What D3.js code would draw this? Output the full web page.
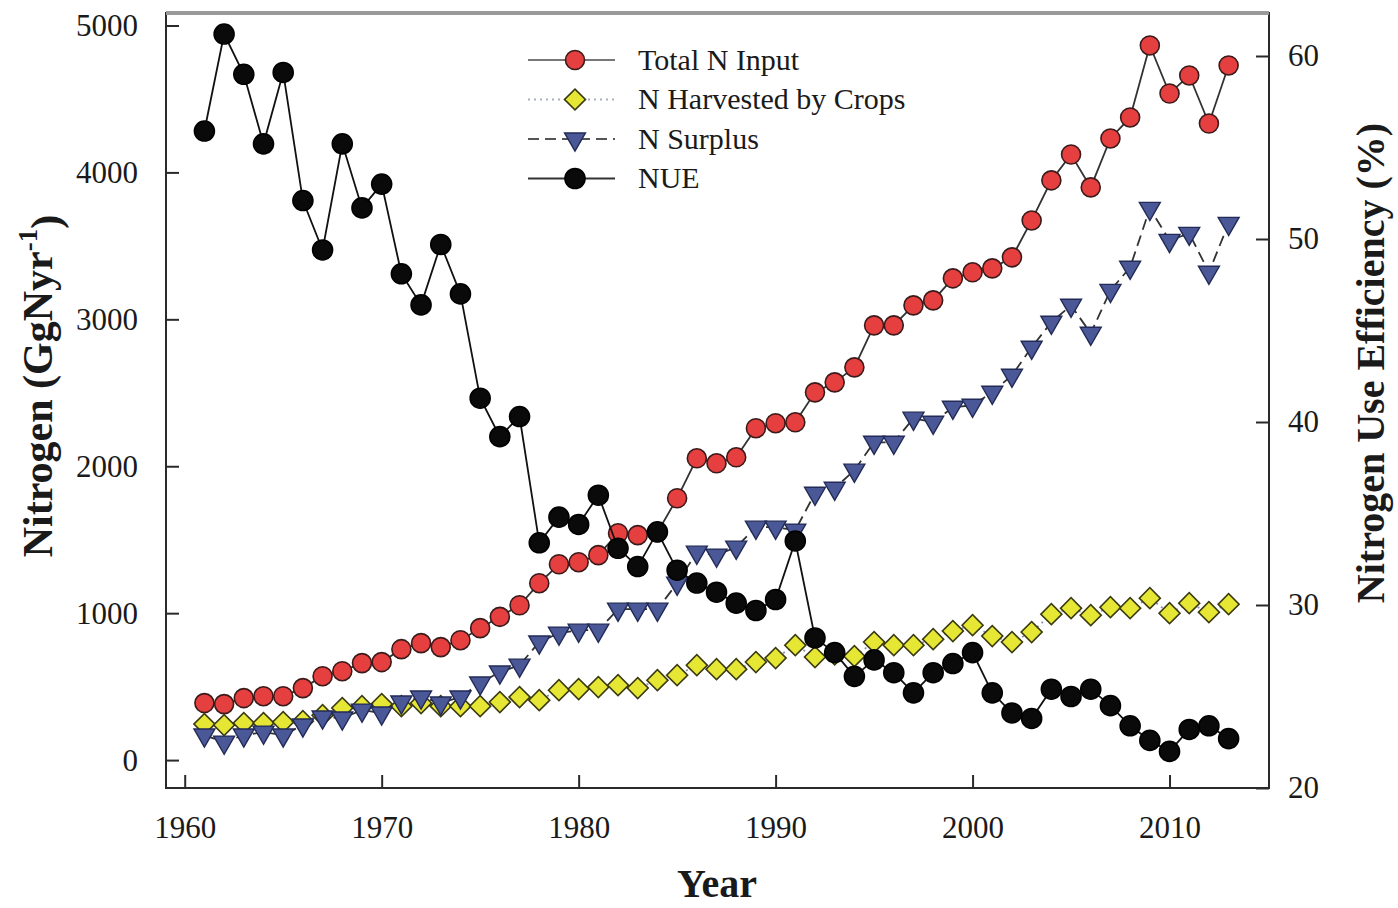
<!DOCTYPE html>
<html>
<head>
<meta charset="utf-8">
<script src="https://cdn.jsdelivr.net/npm/d3@7"></script>
<style>
  body { margin: 0; background: #fff; }
  svg { display: block; font-family: "Liberation Serif", "Times New Roman", serif; }
</style>
</head>
<body>
<svg id="chart" width="1398" height="908"></svg>
<script>
const years = d3.range(1961, 2014);

// Total N input (Gg N/yr)
const totalInput = [388, 381, 422, 435, 435, 490, 571, 605, 660, 667,
    755, 796, 769, 816, 898, 975, 1054, 1204, 1333, 1347,
    1395, 1544, 1531, 1550, 1782, 2054, 2020, 2061, 2259, 2293,
    2299, 2503, 2571, 2673, 2959, 2959, 3095, 3129, 3279, 3320,
    3347, 3422, 3673, 3946, 4122, 3898, 4231, 4374, 4864, 4537,
    4660, 4333, 4728];

// N harvested by crops (Gg N/yr)
const harvested = [245, 238, 252, 252, 259, 265, 306, 354, 367, 381,
    367, 388, 367, 367, 367, 395, 429, 408, 476, 483,
    497, 510, 490, 544, 578, 646, 619, 619, 667, 694,
    782, 701, 720, 707, 803, 782, 782, 823, 878, 918,
    844, 803, 871, 993, 1034, 986, 1041, 1034, 1102, 1000,
    1068, 1007, 1061];

// N surplus (Gg N/yr)
const surplus = [170, 122, 170, 190, 170, 238, 293, 286, 340, 320,
    395, 429, 388, 429, 524, 599, 646, 803, 864, 884,
    884, 1027, 1027, 1027, 1204, 1415, 1395, 1449, 1585, 1585,
    1565, 1816, 1850, 1973, 2163, 2163, 2327, 2299, 2401, 2415,
    2503, 2619, 2810, 2980, 3095, 2905, 3197, 3354, 3755, 3537,
    3585, 3320, 3653];

// Nitrogen use efficiency (%)
const nue = [55.9, 61.2, 59.0, 55.2, 59.1, 52.1, 49.4, 55.2, 51.7, 53.0,
    48.1, 46.4, 49.7, 47.0, 41.3, 39.2, 40.3, 33.4, 34.8, 34.4,
    36.0, 33.1, 32.1, 34.0, 31.9, 31.2, 30.7, 30.1, 29.7, 30.3,
    33.5, 28.2, 27.4, 26.1, 27.0, 26.3, 25.2, 26.3, 26.8, 27.4,
    25.2, 24.1, 23.8, 25.4, 25.0, 25.4, 24.5, 23.4, 22.6, 22.0,
    23.2, 23.4, 22.7];

const xTicks = [1960, 1970, 1980, 1990, 2000, 2010];
const leftTicks = [0, 1000, 2000, 3000, 4000, 5000];
const rightTicks = [20, 30, 40, 50, 60];

const legendLabels = ["Total N Input", "N Harvested by Crops", "N Surplus", "NUE"];

const svg = d3.select("#chart");

const area = { left: 166, right: 1269, top: 13, bottom: 788 };

const x = d3.scaleLinear().domain([1959.05, 2015.05]).range([area.left, area.right]);
const yL = d3.scaleLinear().domain([-190, 5085]).range([area.bottom, area.top]);
const yR = d3.scaleLinear().domain([20, 62.35]).range([area.bottom, area.top]);

const series = [
    { name: legendLabels[0], values: totalInput, scale: yL, shape: "circle", r: 9.5,
      fill: "#e5403f", stroke: "#3a1a1a", line: "#333", lineLegend: "#777", dash: null },
    { name: legendLabels[1], values: harvested, scale: yL, shape: "diamond", size: 220,
      fill: "#e6e634", stroke: "#3a3a10", line: "#8a90a8", lineLegend: "#aab0c4", dash: "2,4" },
    { name: legendLabels[2], values: surplus, scale: yL, shape: "triangle", size: 190,
      fill: "#4a5898", stroke: "#222a55", line: "#333", lineLegend: "#555", dash: "11,6" },
    { name: legendLabels[3], values: nue, scale: yR, shape: "circle", r: 10,
      fill: "#0a0a0a", stroke: "#000", line: "#111", lineLegend: "#333", dash: null }
];

const drawMarker = (g, s, cx, cy) => {
    if (s.shape === "circle") {
        g.append("circle").attr("cx", cx).attr("cy", cy).attr("r", s.r)
            .attr("fill", s.fill).attr("stroke", s.stroke).attr("stroke-width", 1.6);
    } else if (s.shape === "diamond") {
        g.append("path").attr("d", d3.symbol(d3.symbolSquare, s.size)())
            .attr("transform", `translate(${cx},${cy}) rotate(45)`)
            .attr("fill", s.fill).attr("stroke", s.stroke).attr("stroke-width", 1.6);
    } else {
        g.append("path").attr("d", d3.symbol(d3.symbolTriangle, s.size)())
            .attr("transform", `translate(${cx},${cy}) rotate(180)`)
            .attr("fill", s.fill).attr("stroke", s.stroke).attr("stroke-width", 1.4);
    }
};

// series
series.forEach(s => {
    const g = svg.append("g");
    const line = d3.line().x((d, i) => x(years[i])).y(d => s.scale(d));
    g.append("path")
        .datum(s.values)
        .attr("d", line)
        .attr("fill", "none")
        .attr("stroke", s.line)
        .attr("stroke-width", 1.8)
        .attr("stroke-dasharray", s.dash);
    s.values.forEach((v, i) => drawMarker(g, s, x(years[i]), s.scale(v)));
});

// frame
svg.append("rect")
    .attr("x", area.left).attr("y", area.top)
    .attr("width", area.right - area.left).attr("height", area.bottom - area.top)
    .attr("fill", "none").attr("stroke", "#2a2a2a").attr("stroke-width", 2);
svg.append("line")
    .attr("x1", area.left).attr("x2", area.right)
    .attr("y1", area.top).attr("y2", area.top)
    .attr("stroke", "#9a9a9a").attr("stroke-width", 4);

// axes
const styleAxis = g => {
    g.select(".domain").remove();
    g.selectAll(".tick line").attr("stroke", "#2a2a2a").attr("stroke-width", 2);
    g.selectAll(".tick text").attr("fill", "#1a1a1a").style("font-size", "31px")
        .style("font-family", '"Liberation Serif", serif');
};

svg.append("g")
    .attr("transform", `translate(${area.left},0)`)
    .call(d3.axisLeft(yL).tickValues(leftTicks).tickFormat(d3.format("d")).tickSize(-13).tickPadding(28))
    .call(styleAxis);

svg.append("g")
    .attr("transform", `translate(${area.right},0)`)
    .call(d3.axisRight(yR).tickValues(rightTicks).tickFormat(d3.format("d")).tickSize(-13).tickPadding(19))
    .call(styleAxis);

svg.append("g")
    .attr("transform", `translate(0,${area.bottom})`)
    .call(d3.axisBottom(x).tickValues(xTicks).tickFormat(d3.format("d")).tickSize(-13).tickPadding(28))
    .call(styleAxis);

// axis titles
svg.append("text")
    .attr("transform", "translate(52,386) rotate(-90)")
    .attr("text-anchor", "middle")
    .style("font-size", "42px").style("font-weight", "bold").attr("fill", "#1a1a1a")
    .call(t => {
        t.append("tspan").text("Nitrogen (GgNyr");
        t.append("tspan").attr("dy", "-0.55em").style("font-size", "27px").text("-1");
        t.append("tspan").attr("dy", "0.55em").text(")");
    });

svg.append("text")
    .attr("transform", "translate(1384,363) rotate(-90)")
    .attr("text-anchor", "middle")
    .style("font-size", "40px").style("font-weight", "bold").attr("fill", "#1a1a1a")
    .text("Nitrogen Use Efficiency (%)");

svg.append("text")
    .attr("x", 717).attr("y", 897)
    .attr("text-anchor", "middle")
    .style("font-size", "40px").style("font-weight", "bold").attr("fill", "#1a1a1a")
    .text("Year");

// legend
const legend = svg.append("g");
series.forEach((s, i) => {
    const ly = 60 + i * 39.5;
    legend.append("line")
        .attr("x1", 528).attr("x2", 615).attr("y1", ly).attr("y2", ly)
        .attr("stroke", s.lineLegend).attr("stroke-width", 2)
        .attr("stroke-dasharray", s.dash);
    drawMarker(legend, s, 575, ly);
    legend.append("text")
        .attr("x", 638).attr("y", ly).attr("dy", "0.33em")
        .style("font-size", "30px").attr("fill", "#1a1a1a")
        .text(s.name);
});
</script>
</body>
</html>
